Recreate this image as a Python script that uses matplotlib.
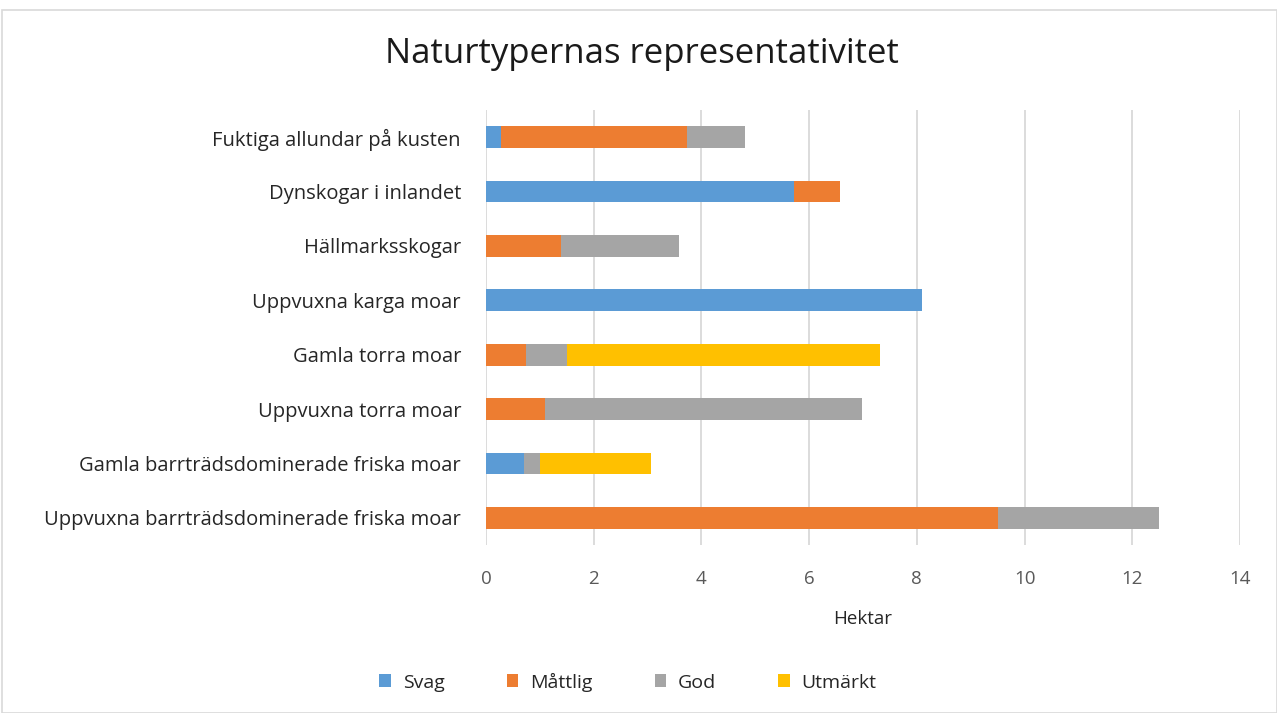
import numpy as np
import matplotlib.pyplot as plt
from matplotlib.patches import Rectangle

plt.rcParams['font.family'] = ['Open Sans', 'DejaVu Sans']

# categories, bottom to top as drawn
categories = ['Uppvuxna barrträdsdominerade friska moar',
              'Gamla barrträdsdominerade friska moar',
              'Uppvuxna torra moar',
              'Gamla torra moar',
              'Uppvuxna karga moar',
              'Hällmarksskogar',
              'Dynskogar i inlandet',
              'Fuktiga allundar på kusten']
svag     = [0.0, 0.71, 0.0, 0.0, 8.10, 0.0, 5.71, 0.27]
mattlig  = [9.50, 0.0, 1.09, 0.75, 0.0, 1.39, 0.86, 3.47]
god      = [3.00, 0.30, 5.89, 0.75, 0.0, 2.19, 0.0, 1.07]
utmarkt  = [0.0, 2.05, 0.0, 5.81, 0.0, 0.0, 0.0, 0.0]
series_names = ['Svag', 'Måttlig', 'God', 'Utmärkt']
colors = ['#5b9bd5', '#ed7d31', '#a5a5a5', '#ffc000']
xticks = [0, 2, 4, 6, 8, 10, 12, 14]

fig = plt.figure(figsize=(12.77, 7.13), dpi=100)
ax = fig.add_axes([486/1277, 1-545/713, (1240-486)/1277, (545-110)/713])

y = np.arange(len(categories))
left = np.zeros(len(categories))
for name, vals, col in zip(series_names, [svag, mattlig, god, utmarkt], colors):
    vals = np.array(vals)
    ax.barh(y, vals, left=left, height=0.4, color=col, label=name)
    left += vals

ax.set_xlim(0, 14)
ax.set_ylim(-0.5, len(categories) - 0.5)
ax.set_xticks(xticks)
ax.set_yticks(y)
ax.set_yticklabels(categories, fontsize=14.5, color='#262626')
ax.tick_params(axis='x', labelsize=13.5, labelcolor='#595959', length=0, pad=18)
ax.tick_params(axis='y', length=0, pad=18)
ax.grid(axis='x', color='#d9d9d9', linewidth=1.3)
ax.set_axisbelow(True)
for s in ax.spines.values():
    s.set_visible(False)

ax.set_xlabel('Hektar', fontsize=13.5, color='#262626', labelpad=16)
fig.text(642/1277, 1 - 54/713, 'Naturtypernas representativitet', ha='center', va='center',
         fontsize=25, color='#1a1a1a')

fig.legend(loc='center', bbox_to_anchor=(628/1277, 1-682/713), ncol=4, frameon=False,
           fontsize=14, handlelength=0.6, handleheight=0.6, columnspacing=3.2,
           handletextpad=0.6, labelcolor='#262626')

fig.patches.append(Rectangle((2/1277, 0), 1 - 2/1277, 1 - 10/713, transform=fig.transFigure,
                             fill=False, edgecolor='#d9d9d9', linewidth=1.2))

fig.savefig('out.png', dpi=100)
